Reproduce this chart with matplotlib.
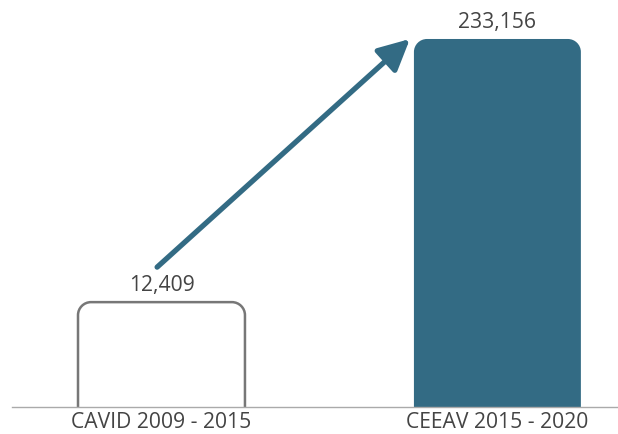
import numpy as np
import matplotlib
matplotlib.use("Agg")
import matplotlib.pyplot as plt
from matplotlib.path import Path
from matplotlib.patches import PathPatch

categories = ["CAVID 2009 - 2015", "CEEAV 2015 - 2020"]
values = [12409, 233156]
value_labels = ["12,409", "233,156"]

BLUE = "#336B84"
GRAY = "#777777"
TEXT = "#444444"

# the original is not drawn to scale: a power scale gives the same look
P = 0.428
fwd = lambda y: np.sign(y) * np.abs(y) ** P
inv = lambda y: np.sign(y) * np.abs(y) ** (1 / P)

plt.rcParams["font.family"] = ["Open Sans", "DejaVu Sans"]

fig = plt.figure(figsize=(6.18, 4.35), dpi=100)
ax = fig.add_axes([12 / 618, 27 / 435, 606 / 618, 408 / 435])
ax.set_yscale("function", functions=(fwd, inv))
ymax = inv(fwd(values[1]) / 0.902)
ax.set_ylim(0, ymax)
ax.set_xlim(-0.445, 1.359)

x = np.arange(len(categories))
w = 0.497
ax.bar(x, values, w, color="none")  # positions only

AX_W, AX_H = 606, 408
R = 13  # corner radius in pixels


def rounded_top(x0, x1, y1, closed):
    # corners in axes coords so the radius stays round in pixels
    tr = ax.transData + ax.transAxes.inverted()
    (ax0, _), (ax1, ay1) = tr.transform([(x0, 0), (x1, y1)])
    rx, ry = R / AX_W, R / AX_H
    k = 0.5523
    y0 = -0.05
    verts = [(ax0, y0), (ax0, ay1 - ry),
             (ax0, ay1 - ry + k * ry), (ax0 + rx - k * rx, ay1), (ax0 + rx, ay1),
             (ax1 - rx, ay1),
             (ax1 - rx + k * rx, ay1), (ax1, ay1 - ry + k * ry), (ax1, ay1 - ry),
             (ax1, y0)]
    codes = [Path.MOVETO, Path.LINETO,
             Path.CURVE4, Path.CURVE4, Path.CURVE4,
             Path.LINETO,
             Path.CURVE4, Path.CURVE4, Path.CURVE4,
             Path.LINETO]
    if closed:
        verts.append((ax0, y0))
        codes.append(Path.CLOSEPOLY)
    return Path(verts, codes)


p1 = PathPatch(rounded_top(x[0] - w / 2, x[0] + w / 2, values[0], False),
               transform=ax.transAxes, facecolor="none", edgecolor=GRAY, lw=1.8)
p2 = PathPatch(rounded_top(x[1] - w / 2, x[1] + w / 2, values[1], True),
               transform=ax.transAxes, facecolor=BLUE, edgecolor="none")
for p in (p1, p2):
    p.set_clip_on(True)
    ax.add_patch(p)

for xi, v, lab in zip(x, values, value_labels):
    ax.annotate(lab, (xi, v), xytext=(0, 5), textcoords="offset points",
                ha="center", va="bottom", fontsize=15.2, color=TEXT)

# arrow from above the small bar to the top-left of the big bar
tail = ax.transData.transform((x[0] - 0.013, values[0])) + np.array([0, 35])
head = ax.transData.transform((x[1] - w / 2 - 0.012, values[1]))
ax.annotate("", xy=head, xycoords="figure pixels", xytext=tail, textcoords="figure pixels",
            arrowprops=dict(arrowstyle="-|>,head_length=0.9,head_width=0.45",
                            color=BLUE, lw=3.8, mutation_scale=21,
                            shrinkA=0, shrinkB=0))

ax.set_xticks(x)
ax.set_xticklabels(categories, fontsize=15.2, color=TEXT)
ax.tick_params(axis="x", length=0, pad=3)
ax.set_yticks([])
ax.yaxis.set_minor_locator(matplotlib.ticker.NullLocator())
for s in ("top", "right", "left"):
    ax.spines[s].set_visible(False)
ax.spines["bottom"].set_color("#AAAAAA")
ax.spines["bottom"].set_linewidth(1)
ax.spines["bottom"].set_zorder(3)

fig.savefig("out.png", dpi=100)
